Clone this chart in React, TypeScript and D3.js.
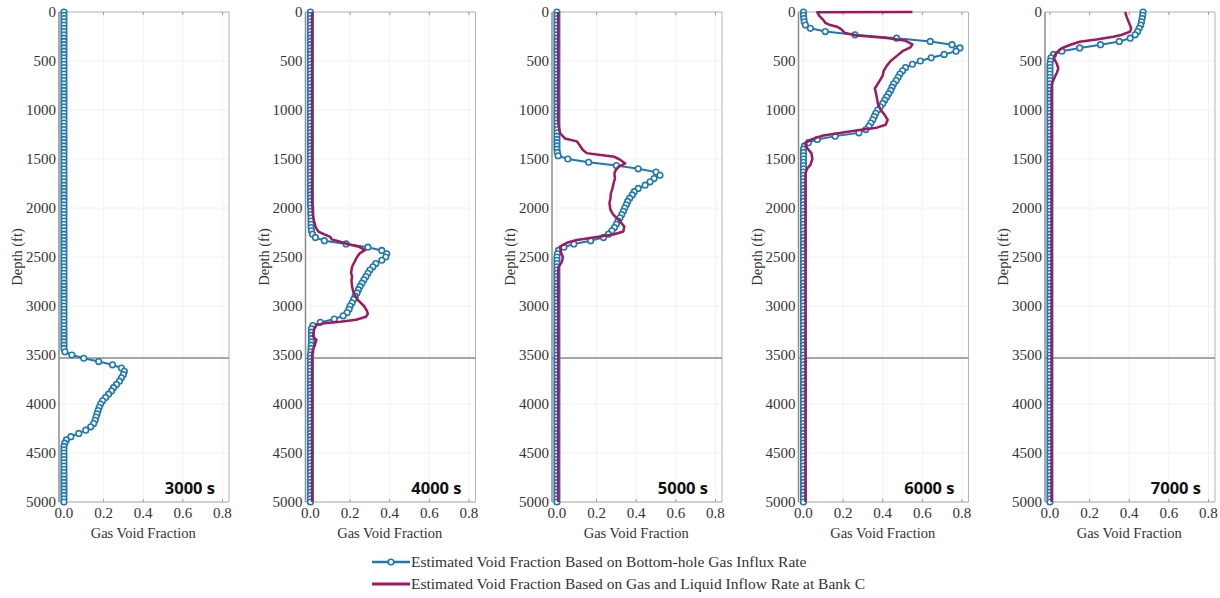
import React from "react";
import * as d3 from "d3";

// ---------- data ----------
const panelLabels = ["3000 s", "4000 s", "5000 s", "6000 s", "7000 s"];
const xTickValues = [0, 0.2, 0.4, 0.6, 0.8];
const yTickValues = [0, 500, 1000, 1500, 2000, 2500, 3000, 3500, 4000, 4500, 5000];
const maxDepth = 5000;
const gridCells = 150; // blue estimate sampled on a uniform depth grid (151 nodes)
const bankDepth = 3530;

// Estimated Void Fraction Based on Bottom-hole Gas Influx Rate (one row = 500 ft)
const blue3000 = [
  0, 0, 0, 0, 0, 0, 0, 0, 0, 0, 0, 0, 0, 0, 0,
  0, 0, 0, 0, 0, 0, 0, 0, 0, 0, 0, 0, 0, 0, 0,
  0, 0, 0, 0, 0, 0, 0, 0, 0, 0, 0, 0, 0, 0, 0,
  0, 0, 0, 0, 0, 0, 0, 0, 0, 0, 0, 0, 0, 0, 0,
  0, 0, 0, 0, 0, 0, 0, 0, 0, 0, 0, 0, 0, 0, 0,
  0, 0, 0, 0, 0, 0, 0, 0, 0, 0, 0, 0, 0, 0, 0,
  0, 0, 0, 0, 0, 0, 0, 0, 0, 0, 0, 0, 0, 0, 0.005,
  0.04, 0.10, 0.175, 0.245, 0.29, 0.305, 0.30, 0.29, 0.28, 0.265, 0.25, 0.24, 0.225, 0.21, 0.195,
  0.185, 0.178, 0.172, 0.167, 0.162, 0.157, 0.15, 0.135, 0.11, 0.075, 0.035, 0.012, 0.004, 0, 0,
  0, 0, 0, 0, 0, 0, 0, 0, 0, 0, 0, 0, 0, 0, 0,
  0,
];
const blue4000 = [
  0, 0, 0, 0, 0, 0, 0, 0, 0, 0, 0, 0, 0, 0, 0,
  0, 0, 0, 0, 0, 0, 0, 0, 0, 0, 0, 0, 0, 0, 0,
  0, 0, 0, 0, 0, 0, 0, 0, 0, 0, 0, 0, 0, 0, 0,
  0, 0, 0, 0, 0, 0, 0, 0, 0, 0, 0, 0, 0, 0, 0,
  0.002, 0.002, 0.002, 0.003, 0.003, 0.003, 0.003, 0.005, 0.01, 0.025, 0.07, 0.18, 0.29, 0.36, 0.385,
  0.38, 0.36, 0.33, 0.315, 0.30, 0.29, 0.28, 0.27, 0.26, 0.25, 0.242, 0.235, 0.226, 0.218, 0.21,
  0.20, 0.195, 0.185, 0.165, 0.12, 0.05, 0.012, 0.005, 0.005, 0.005, 0.005, 0.005, 0.004, 0.003, 0.002,
  0, 0, 0, 0, 0, 0, 0, 0, 0, 0, 0, 0, 0, 0, 0,
  0, 0, 0, 0, 0, 0, 0, 0, 0, 0, 0, 0, 0, 0, 0,
  0, 0, 0, 0, 0, 0, 0, 0, 0, 0, 0, 0, 0, 0, 0,
  0,
];
const blue5000 = [
  0, 0, 0, 0, 0, 0, 0, 0, 0, 0, 0, 0, 0, 0, 0,
  0, 0, 0, 0, 0, 0, 0, 0, 0, 0, 0, 0, 0, 0, 0,
  0, 0, 0, 0, 0, 0, 0, 0, 0, 0, 0, 0, 0, 0.002, 0.006,
  0.055, 0.16, 0.30, 0.41, 0.50, 0.52, 0.49, 0.47, 0.445, 0.41, 0.39, 0.38, 0.367, 0.357, 0.35,
  0.342, 0.335, 0.327, 0.318, 0.308, 0.30, 0.29, 0.277, 0.26, 0.235, 0.17, 0.085, 0.035, 0.008, 0.002,
  0, 0, 0, 0, 0, 0, 0, 0, 0, 0, 0, 0, 0, 0, 0,
  0, 0, 0, 0, 0, 0, 0, 0, 0, 0, 0, 0, 0, 0, 0,
  0, 0, 0, 0, 0, 0, 0, 0, 0, 0, 0, 0, 0, 0, 0,
  0, 0, 0, 0, 0, 0, 0, 0, 0, 0, 0, 0, 0, 0, 0,
  0, 0, 0, 0, 0, 0, 0, 0, 0, 0, 0, 0, 0, 0, 0,
  0,
];
const blue6000 = [
  0, 0, 0.002, 0.004, 0.01, 0.035, 0.11, 0.26, 0.47, 0.64, 0.75, 0.79, 0.77, 0.71, 0.645,
  0.59, 0.55, 0.515, 0.50, 0.487, 0.478, 0.468, 0.455, 0.447, 0.44, 0.43, 0.42, 0.41, 0.40, 0.388,
  0.375, 0.365, 0.357, 0.35, 0.34, 0.33, 0.315, 0.28, 0.16, 0.07, 0.025, 0.005, 0, 0, 0,
  0, 0, 0, 0, 0, 0, 0, 0, 0, 0, 0, 0, 0, 0, 0,
  0, 0, 0, 0, 0, 0, 0, 0, 0, 0, 0, 0, 0, 0, 0,
  0, 0, 0, 0, 0, 0, 0, 0, 0, 0, 0, 0, 0, 0, 0,
  0, 0, 0, 0, 0, 0, 0, 0, 0, 0, 0, 0, 0, 0, 0,
  0, 0, 0, 0, 0, 0, 0, 0, 0, 0, 0, 0, 0, 0, 0,
  0, 0, 0, 0, 0, 0, 0, 0, 0, 0, 0, 0, 0, 0, 0,
  0, 0, 0, 0, 0, 0, 0, 0, 0, 0, 0, 0, 0, 0, 0,
  0,
];
const blue7000 = [
  0.47, 0.468, 0.465, 0.462, 0.458, 0.45, 0.442, 0.43, 0.405, 0.35, 0.255, 0.15, 0.06, 0.018, 0.005,
  0.002, 0, 0, 0, 0, 0, 0, 0, 0, 0, 0, 0, 0, 0, 0,
  0, 0, 0, 0, 0, 0, 0, 0, 0, 0, 0, 0, 0, 0, 0,
  0, 0, 0, 0, 0, 0, 0, 0, 0, 0, 0, 0, 0, 0, 0,
  0, 0, 0, 0, 0, 0, 0, 0, 0, 0, 0, 0, 0, 0, 0,
  0, 0, 0, 0, 0, 0, 0, 0, 0, 0, 0, 0, 0, 0, 0,
  0, 0, 0, 0, 0, 0, 0, 0, 0, 0, 0, 0, 0, 0, 0,
  0, 0, 0, 0, 0, 0, 0, 0, 0, 0, 0, 0, 0, 0, 0,
  0, 0, 0, 0, 0, 0, 0, 0, 0, 0, 0, 0, 0, 0, 0,
  0, 0, 0, 0, 0, 0, 0, 0, 0, 0, 0, 0, 0, 0, 0,
  0,
];

// Estimated Void Fraction Based on Gas and Liquid Inflow Rate at Bank C: [depth ft, void fraction]
const red4000: [number, number][] = [
  [0, 0.008], [1900, 0.008], [2000, 0.01], [2100, 0.014], [2150, 0.02], [2200, 0.027],
  [2240, 0.04], [2270, 0.07], [2295, 0.1], [2320, 0.107], [2345, 0.15], [2370, 0.19],
  [2395, 0.245], [2430, 0.275], [2460, 0.25], [2500, 0.235], [2540, 0.225], [2600, 0.21],
  [2660, 0.205], [2700, 0.21], [2740, 0.207], [2800, 0.21], [2870, 0.218], [2940, 0.24],
  [3000, 0.27], [3050, 0.285], [3080, 0.29], [3110, 0.28], [3140, 0.23], [3160, 0.15],
  [3175, 0.07], [3195, 0.03], [3240, 0.018], [3310, 0.013], [3345, 0.03], [3400, 0.022],
  [3450, 0.012], [3500, 0.008], [5000, 0.008],
];
const red5000: [number, number][] = [
  [0, 0.006], [1100, 0.006], [1150, 0.008], [1200, 0.012], [1240, 0.017], [1290, 0.04],
  [1320, 0.1], [1355, 0.113], [1405, 0.13], [1440, 0.15], [1460, 0.22], [1478, 0.29],
  [1510, 0.32], [1545, 0.345], [1580, 0.31], [1620, 0.295], [1650, 0.29], [1700, 0.293],
  [1730, 0.288], [1800, 0.28], [1850, 0.272], [1900, 0.27], [1950, 0.265], [2020, 0.27],
  [2070, 0.285], [2140, 0.32], [2190, 0.34], [2240, 0.335], [2270, 0.285], [2300, 0.185],
  [2327, 0.1], [2355, 0.05], [2395, 0.015], [2450, 0.02], [2500, 0.03], [2550, 0.025],
  [2600, 0.008], [2650, 0.006], [5000, 0.006],
];
const red6000: [number, number][] = [
  [0, 0.55], [3, 0.07], [40, 0.08], [80, 0.10], [110, 0.11], [130, 0.13], [150, 0.17],
  [175, 0.19], [215, 0.21], [240, 0.27], [265, 0.42], [290, 0.51], [330, 0.55], [360, 0.54],
  [400, 0.50], [450, 0.47], [500, 0.44], [550, 0.42], [600, 0.405], [650, 0.40], [700, 0.385],
  [750, 0.37], [780, 0.36], [820, 0.365], [870, 0.37], [930, 0.375], [1000, 0.39],
  [1050, 0.41], [1100, 0.425], [1150, 0.415], [1180, 0.37], [1200, 0.30], [1230, 0.20],
  [1260, 0.10], [1300, 0.04], [1340, 0.008], [1380, 0.015], [1440, 0.04], [1500, 0.045],
  [1560, 0.035], [1600, 0.018], [1650, 0.01], [5000, 0.01],
];
const red7000: [number, number][] = [
  [0, 0.38], [50, 0.387], [115, 0.40], [165, 0.41], [200, 0.405], [235, 0.36], [252, 0.32],
  [280, 0.235], [303, 0.15], [337, 0.10], [370, 0.06], [420, 0.03], [470, 0.02], [525, 0.034],
  [575, 0.042], [620, 0.035], [660, 0.025], [730, 0.01], [800, 0.008], [5000, 0.008],
];

const blueSeries = [blue3000, blue4000, blue5000, blue6000, blue7000];
const redSeries: ([number, number][] | null)[] = [null, red4000, red5000, red6000, red7000];

const legendLabels = [
  "Estimated Void Fraction Based on Bottom-hole Gas Influx Rate",
  "Estimated Void Fraction Based on Gas and Liquid Inflow Rate at Bank C",
];

// ---------- styles ----------
const BLUE = "#1f78b0";
const RED = "#a0195c";
const SERIF = "Liberation Serif, Times New Roman, serif";
const TEXT = "#333";
const serifStyle = { fontFamily: SERIF };

const plotTop = 12;
const plotBottom = 502;
const plotWidth = 170;
const firstLeft = 59;
const panelStep = 246.5;

const x = d3.scaleLinear().domain([-0.025, 0.833]).range([0, plotWidth]);
const y = d3.scaleLinear().domain([0, maxDepth]).range([plotTop, plotBottom]);

const depthLine = d3
  .line<[number, number]>()
  .x((d) => x(d[1]))
  .y((d) => y(d[0]));

function Panel({ idx }: { idx: number }) {
  const left = firstLeft + idx * panelStep;
  const blue: [number, number][] = blueSeries[idx].map((v, i) => [(i * maxDepth) / gridCells, v]);
  const red = redSeries[idx];
  const x0 = 0;
  const x1 = plotWidth;
  return (
    <g transform={`translate(${left},0)`}>
      <rect x={x0} y={plotTop} width={plotWidth} height={plotBottom - plotTop} fill="#fff" />
      {xTickValues.map((t) => (
        <line key={"gx" + t} x1={x(t)} x2={x(t)} y1={plotTop} y2={plotBottom} stroke="#f2f2f2" strokeWidth={1} />
      ))}
      {yTickValues.map((t) => (
        <line key={"gy" + t} x1={x0} x2={x1} y1={y(t)} y2={y(t)} stroke="#f2f2f2" strokeWidth={1} />
      ))}
      {/* frame */}
      <line x1={x0} x2={x1} y1={plotTop} y2={plotTop} stroke="#b4b4b4" strokeWidth={1} />
      <line x1={x1} x2={x1} y1={plotTop} y2={plotBottom} stroke="#b4b4b4" strokeWidth={1} />
      <line x1={x0} x2={x1} y1={plotBottom} y2={plotBottom} stroke="#a8a8a8" strokeWidth={1} />
      {xTickValues.map((t) => (
        <g key={"tk" + t}>
          <line x1={x(t)} x2={x(t)} y1={plotTop} y2={plotTop + 3} stroke="#999" strokeWidth={1} />
          <line x1={x(t)} x2={x(t)} y1={plotBottom} y2={plotBottom - 3} stroke="#999" strokeWidth={1} />
        </g>
      ))}
      {/* bank line */}
      <line x1={x0} x2={x1} y1={y(bankDepth)} y2={y(bankDepth)} stroke="#8a8a8a" strokeWidth={1.5} />
      {/* blue series */}
      <path d={depthLine(blue) || ""} fill="none" stroke={BLUE} strokeWidth={2} />
      {blue.map((d, i) => (
        <circle key={"m" + i} cx={x(d[1])} cy={y(d[0])} r={2.8} fill="#fff" stroke={BLUE} strokeWidth={1.6} />
      ))}
      {red && <path d={depthLine(red) || ""} fill="none" stroke={RED} strokeWidth={2.5} strokeLinejoin="round" />}
      {/* left axis */}
      <line x1={x0} x2={x0} y1={plotTop} y2={plotBottom} stroke="#8c8c8c" strokeWidth={1.5} />
      {yTickValues.map((t) => (
        <text key={"yl" + t} x={-3} y={y(t) + 5} textAnchor="end" style={serifStyle} fontSize={15} fill={TEXT}>
          {t}
        </text>
      ))}
      {xTickValues.map((t) => (
        <text key={"xl" + t} x={x(t)} y={518} textAnchor="middle" style={serifStyle} fontSize={15} fill={TEXT}>
          {t.toFixed(1)}
        </text>
      ))}
      <text x={x(0.4)} y={538} textAnchor="middle" style={serifStyle} fontSize={14.5} fill={TEXT}>
        Gas Void Fraction
      </text>
      <text
        transform={`translate(${-37},${(plotTop + plotBottom) / 2}) rotate(-90)`}
        textAnchor="middle"
        style={serifStyle}
        fontSize={14.5}
        fill={TEXT}
      >
        Depth (ft)
      </text>
      <text
        x={x1 - 14}
        y={494}
        textAnchor="end"
        style={{ fontFamily: "Open Sans, Noto Sans, sans-serif", fontWeight: 700 }}
        fontSize={16.5}
        fill="#111"
      >
        {panelLabels[idx]}
      </text>
    </g>
  );
}

export default function App() {
  return (
    <svg
      width={1220}
      height={598}
      style={{ position: "absolute", left: 0, top: 0, background: "#fff" }}
    >
      <rect x={0} y={0} width={1220} height={598} fill="#fff" />
      {panelLabels.map((_, i) => (
        <Panel key={i} idx={i} />
      ))}
      {/* legend */}
      <g>
        <line x1={372} x2={410} y1={562} y2={562} stroke={BLUE} strokeWidth={2.5} />
        <circle cx={391} cy={562} r={2.8} fill="#fff" stroke={BLUE} strokeWidth={1.6} />
        <text x={411} y={567} style={serifStyle} fontSize={15.5} fill={TEXT}>
          {legendLabels[0]}
        </text>
        <line x1={372} x2={410} y1={584} y2={584} stroke={RED} strokeWidth={3} />
        <text x={411} y={589} style={serifStyle} fontSize={15.5} fill={TEXT}>
          {legendLabels[1]}
        </text>
      </g>
    </svg>
  );
}
